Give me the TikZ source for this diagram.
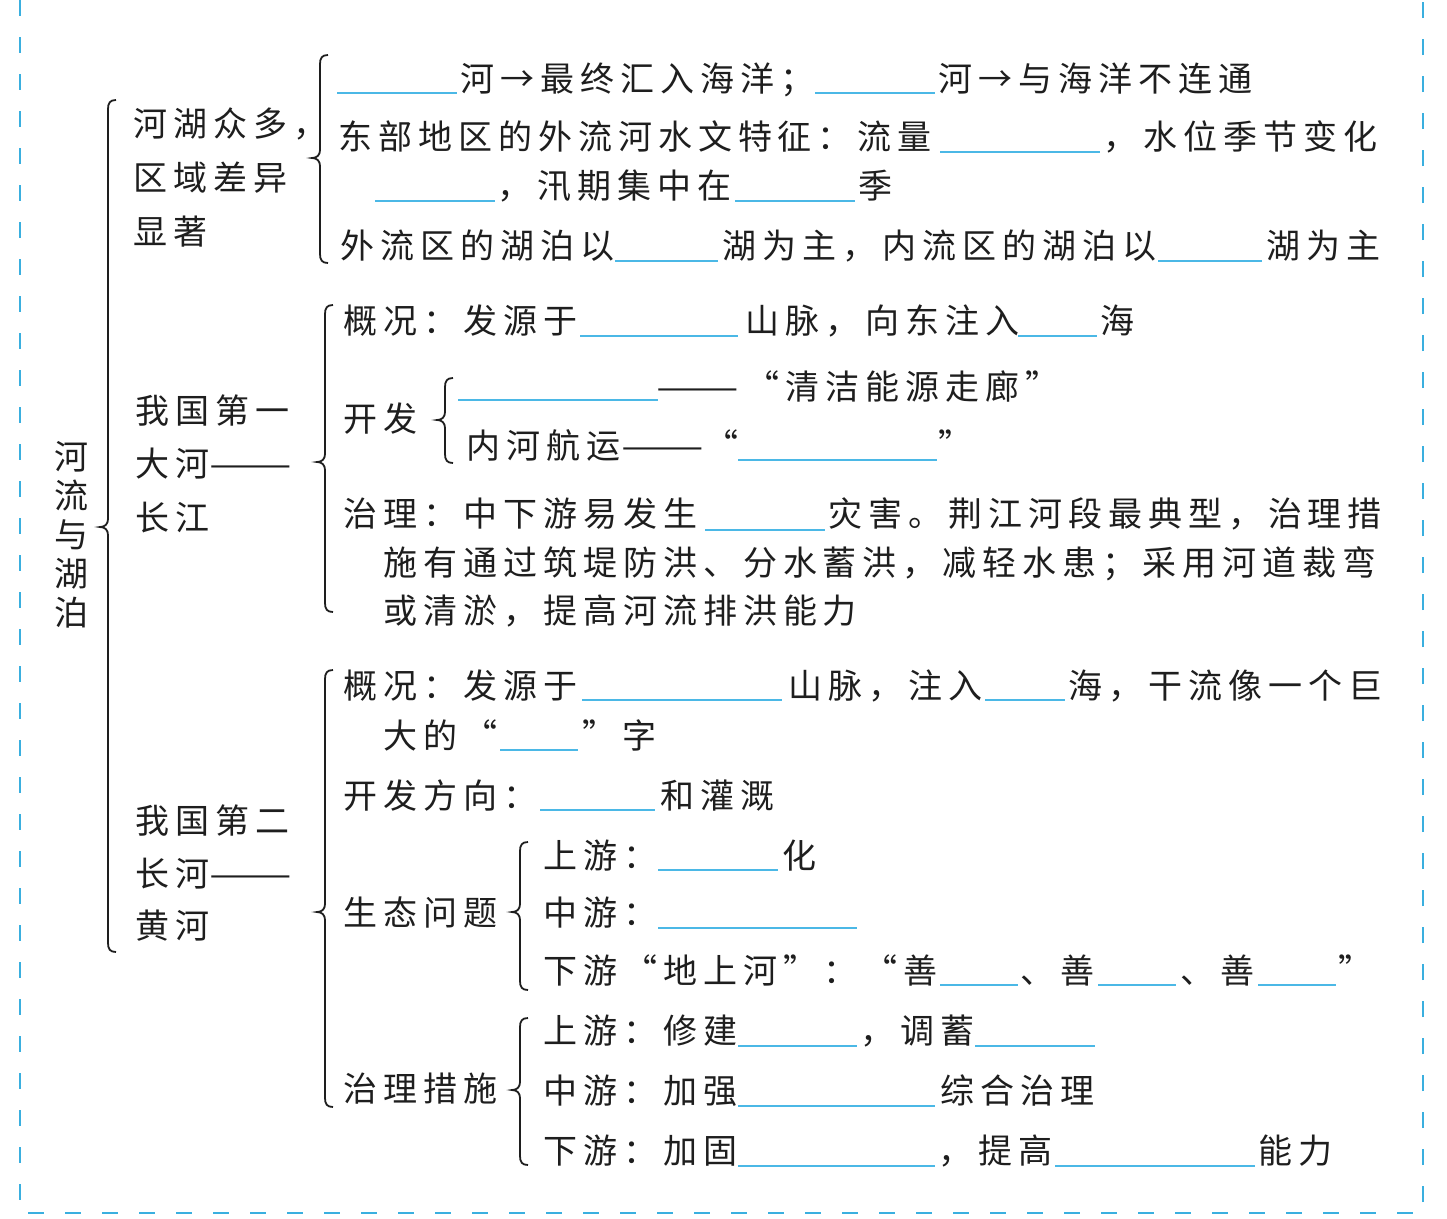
\documentclass[tikz,border=0pt]{standalone}
\usepackage{fontspec}
\usepackage{graphicx}
\newfontfamily\cjk[LetterSpace=17.6]{Noto Sans CJK SC}
\definecolor{blankblue}{HTML}{4BB8E6}
\definecolor{borderblue}{HTML}{3AAFDF}
\definecolor{ink}{HTML}{1E1E1E}
\newcommand\dashpair{{\addfontfeature{LetterSpace=0}\scalebox{1.45}[1]{——}}}
\newcommand\mybrace[5]{% name x top bottom tip
  \draw[brc] (#2+8,#3) .. controls (#2+2,#3) and (#2,#3+3) .. (#2,#3+9)
    -- (#2,#5-8) .. controls (#2,#5-3) and (#2-3,#5) .. (#2-8,#5)
    .. controls (#2-3,#5) and (#2,#5+3) .. (#2,#5+8)
    -- (#2,#4-9) .. controls (#2,#4-3) and (#2+2,#4) .. (#2+8,#4);
  \coordinate (#1) at (#2-8,#5);}
\begin{document}
\begin{tikzpicture}[x=1pt,y=-1pt,
  txt/.style={anchor=base west, inner sep=0pt, text=ink, font=\cjk\fontsize{34}{40}\selectfont},
  blank/.style={draw=blankblue, line width=1.8pt},
  brc/.style={draw=ink, line width=1.8pt},
  border/.style={draw=borderblue, line width=2pt, dash pattern=on 16pt off 21pt}]
\useasboundingbox (0,0) rectangle (1447,1218);
\fill[white] (0,0) rectangle (1447,1218);
% border
\draw[border] (20,0) -- (20,1213) -- (1423,1213) -- (1423,0);

% title
\node[txt, anchor=center, align=center, font=\cjk\fontsize{34}{39}\selectfont] (title) at (71,535) {河\\流\\与\\湖\\泊};
\mybrace{b1}{108}{100}{952}{527}

% left column
\node[txt] (h1) at (133,136) {河湖众多，};
\node[txt] (h2) at (133,190) {区域差异};
\node[txt] (h3) at (133,244) {显著};
\node[txt] (c1) at (135,423) {我国第一};
\node[txt] (c2) at (135,476) {大河\dashpair};
\node[txt] (c3) at (135,530) {长江};
\node[txt] (y1) at (135,833) {我国第二};
\node[txt] (y2) at (135,886) {长河\dashpair};
\node[txt] (y3) at (135,938) {黄河};

% section 1
\mybrace{b2}{320}{55}{263}{158}
\draw[blank] (337,93) -- (457,93);
\node[txt] (s1a) at (460,91) {河→最终汇入海洋；};
\draw[blank] (815,93) -- (935,93);
\node[txt] (s1b) at (938,91) {河→与海洋不连通};
\node[txt] (s2a) at (338,149) {东部地区的外流河水文特征：流量};
\draw[blank] (940,152) -- (1100,152);
\node[txt] (s2b) at (1103,149) {，水位季节变化};
\draw[blank] (375,201) -- (495,201);
\node[txt] (s3a) at (497,198) {，汛期集中在};
\draw[blank] (735,201) -- (855,201);
\node[txt] (s3b) at (858,198) {季};
\node[txt] (s4a) at (340,258) {外流区的湖泊以};
\draw[blank] (615,261) -- (718,261);
\node[txt] (s4b) at (722,258) {湖为主，内流区的湖泊以};
\draw[blank] (1158,261) -- (1262,261);
\node[txt] (s4c) at (1266,258) {湖为主};

% section 2
\mybrace{b3}{325}{305}{612}{462}
\node[txt] (g1a) at (343,333) {概况：发源于};
\draw[blank] (580,336) -- (738,336);
\node[txt] (g1b) at (745,333) {山脉，向东注入};
\draw[blank] (1018,336) -- (1097,336);
\node[txt] (g1c) at (1100,333) {海};
\node[txt] (kf) at (343,431) {开发};
\mybrace{b5}{445}{378}{463}{420}
\draw[blank] (458,400) -- (658,400);
\node[txt] (kfa1) at (656,399) {\dashpair};
\node[txt] (kfa2) at (745,399) {“清洁能源走廊”};
\node[txt] (kfb1) at (466,458) {内河航运};
\node[txt] (kfb2) at (621,458) {\dashpair};
\node[txt] (kfb3) at (704,458) {“};
\draw[blank] (738,460) -- (937,460);
\node[txt] (kfb4) at (938,458) {”};
\node[txt] (zl1a) at (343,526) {治理：中下游易发生};
\draw[blank] (705,530) -- (825,530);
\node[txt] (zl1b) at (828,526) {灾害。荆江河段最典型，治理措};
\node[txt] (zl2) at (383,575) {施有通过筑堤防洪、分水蓄洪，减轻水患；采用河道裁弯};
\node[txt] (zl3) at (383,623) {或清淤，提高河流排洪能力};

% section 3
\mybrace{b4}{325}{670}{1107}{912}
\node[txt] (p1a) at (343,698) {概况：发源于};
\draw[blank] (582,700) -- (782,700);
\node[txt] (p1b) at (788,698) {山脉，注入};
\draw[blank] (985,700) -- (1065,700);
\node[txt] (p1c) at (1068,698) {海，干流像一个巨};
\node[txt] (p2a) at (383,748) {大的“};
\draw[blank] (500,750) -- (578,750);
\node[txt] (p2b) at (582,748) {”字};
\node[txt] (p3a) at (343,808) {开发方向：};
\draw[blank] (540,810) -- (655,810);
\node[txt] (p3b) at (660,808) {和灌溉};

\node[txt] (st) at (343,925) {生态问题};
\mybrace{b6}{520}{842}{990}{912}
\node[txt] (st1a) at (543,868) {上游：};
\draw[blank] (658,870) -- (778,870);
\node[txt] (st1b) at (782,868) {化};
\node[txt] (st2) at (543,925) {中游：};
\draw[blank] (658,928) -- (857,928);
\node[txt] (st3a) at (543,983) {下游“地上河”：“善};
\draw[blank] (940,985) -- (1018,985);
\node[txt] (st3b) at (1020,983) {、善};
\draw[blank] (1098,985) -- (1176,985);
\node[txt] (st3c) at (1180,983) {、善};
\draw[blank] (1258,985) -- (1336,985);
\node[txt] (st3d) at (1338,983) {”};

\node[txt] (cs) at (343,1101) {治理措施};
\mybrace{b7}{520}{1018}{1165}{1090}
\node[txt] (cs1a) at (543,1043) {上游：修建};
\draw[blank] (738,1046) -- (857,1046);
\node[txt] (cs1b) at (860,1043) {，调蓄};
\draw[blank] (975,1046) -- (1095,1046);
\node[txt] (cs2a) at (543,1103) {中游：加强};
\draw[blank] (738,1106) -- (935,1106);
\node[txt] (cs2b) at (940,1103) {综合治理};
\node[txt] (cs3a) at (543,1163) {下游：加固};
\draw[blank] (738,1166) -- (935,1166);
\node[txt] (cs3b) at (938,1163) {，提高};
\draw[blank] (1055,1166) -- (1255,1166);
\node[txt] (cs3c) at (1258,1163) {能力};
\end{tikzpicture}
\end{document}
